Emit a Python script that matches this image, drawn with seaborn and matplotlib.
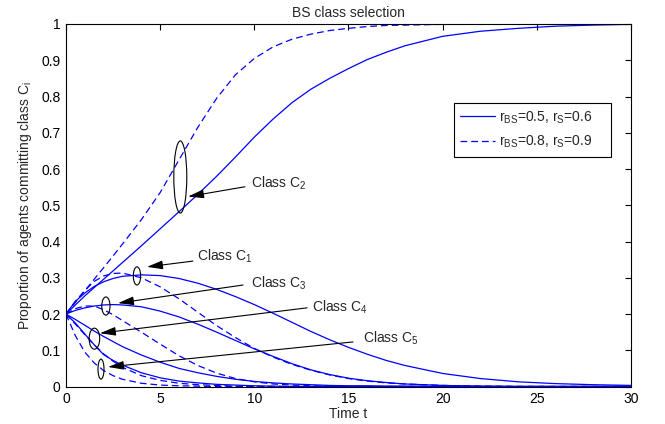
import matplotlib
matplotlib.use('Agg')
import matplotlib.pyplot as plt
import numpy as np
import pandas as pd
import seaborn as sns
from matplotlib.patches import Ellipse
from matplotlib.lines import Line2D

# ---------------- data ----------------
t = [0, 0.5, 1, 1.5, 2, 2.5, 3, 4, 5, 6, 7, 8, 9, 10, 11, 12, 13, 14, 15, 16,
     17, 18, 20, 22, 24, 26, 28, 30]

# r_BS=0.5, r_S=0.6 (solid)
c1_solid = [0.200, 0.235, 0.258, 0.276, 0.289, 0.298, 0.304, 0.308, 0.306, 0.298,
            0.285, 0.268, 0.248, 0.226, 0.202, 0.177, 0.152, 0.129, 0.108, 0.089,
            0.072, 0.058, 0.036, 0.022, 0.013, 0.008, 0.005, 0.003]
c2_solid = [0.200, 0.225, 0.250, 0.273, 0.296, 0.319, 0.342, 0.388, 0.435, 0.482,
            0.530, 0.580, 0.633, 0.688, 0.738, 0.783, 0.820, 0.850, 0.877, 0.902,
            0.922, 0.940, 0.966, 0.980, 0.988, 0.994, 0.997, 0.999]
c3_solid = [0.200, 0.210, 0.217, 0.222, 0.225, 0.226, 0.225, 0.220, 0.208, 0.192,
            0.172, 0.150, 0.127, 0.104, 0.083, 0.063, 0.046, 0.033, 0.023, 0.016,
            0.011, 0.007, 0.003, 0.001, 0.000, 0.000, 0.000, 0.000]
c4_solid = [0.200, 0.185, 0.169, 0.153, 0.138, 0.124, 0.110, 0.087, 0.067, 0.050,
            0.038, 0.028, 0.020, 0.014, 0.010, 0.007, 0.005, 0.003, 0.002, 0.002,
            0.001, 0.001, 0.000, 0.000, 0.000, 0.000, 0.000, 0.000]
c5_solid = [0.200, 0.175, 0.145, 0.115, 0.088, 0.072, 0.059, 0.038, 0.024, 0.015,
            0.010, 0.006, 0.004, 0.002, 0.001, 0.000, 0.000, 0.000, 0.000, 0.000,
            0.000, 0.000, 0.000, 0.000, 0.000, 0.000, 0.000, 0.000]

# r_BS=0.8, r_S=0.9 (dashed)
c1_dash = [0.200, 0.235, 0.265, 0.290, 0.305, 0.312, 0.313, 0.300, 0.275, 0.242,
           0.205, 0.168, 0.135, 0.105, 0.081, 0.061, 0.045, 0.032, 0.022, 0.015,
           0.010, 0.007, 0.003, 0.001, 0.000, 0.000, 0.000, 0.000]
c2_dash = [0.200, 0.232, 0.264, 0.296, 0.328, 0.360, 0.393, 0.460, 0.535, 0.625,
           0.715, 0.795, 0.860, 0.905, 0.937, 0.958, 0.972, 0.982, 0.988, 0.993,
           0.996, 0.997, 0.999, 1.000, 1.000, 1.000, 1.000, 1.000]
c3_dash = [0.200, 0.215, 0.222, 0.222, 0.212, 0.198, 0.182, 0.150, 0.117, 0.085,
           0.058, 0.037, 0.022, 0.013, 0.007, 0.004, 0.002, 0.001, 0.000, 0.000,
           0.000, 0.000, 0.000, 0.000, 0.000, 0.000, 0.000, 0.000]
c4_dash = [0.200, 0.172, 0.143, 0.115, 0.090, 0.070, 0.053, 0.030, 0.017, 0.009,
           0.005, 0.003, 0.001, 0.000, 0.000, 0.000, 0.000, 0.000, 0.000, 0.000,
           0.000, 0.000, 0.000, 0.000, 0.000, 0.000, 0.000, 0.000]
c5_dash = [0.200, 0.140, 0.095, 0.065, 0.044, 0.030, 0.020, 0.009, 0.004, 0.002,
           0.001, 0.000, 0.000, 0.000, 0.000, 0.000, 0.000, 0.000, 0.000, 0.000,
           0.000, 0.000, 0.000, 0.000, 0.000, 0.000, 0.000, 0.000]

legend_labels = [r'r$_\mathrm{BS}$=0.5, r$_\mathrm{S}$=0.6    ',
                 r'r$_\mathrm{BS}$=0.8, r$_\mathrm{S}$=0.9    ']
x_ticks = [0, 5, 10, 15, 20, 25, 30]
y_ticks = [0, 0.1, 0.2, 0.3, 0.4, 0.5, 0.6, 0.7, 0.8, 0.9, 1]
y_tick_labels = ['0', '0.1', '0.2', '0.3', '0.4', '0.5', '0.6', '0.7', '0.8', '0.9', '1']

# ---------------- build table ----------------
series = {
    ('solid', 'C1'): c1_solid, ('solid', 'C2'): c2_solid, ('solid', 'C3'): c3_solid,
    ('solid', 'C4'): c4_solid, ('solid', 'C5'): c5_solid,
    ('dash', 'C1'): c1_dash, ('dash', 'C2'): c2_dash, ('dash', 'C3'): c3_dash,
    ('dash', 'C4'): c4_dash, ('dash', 'C5'): c5_dash,
}
rows = []
for (param, cls), vals in series.items():
    for tt, vv in zip(t, vals):
        rows.append({'t': tt, 'v': vv, 'param': param, 'unit': param + cls})
df = pd.DataFrame(rows)

# ---------------- style ----------------
sns.set_theme(style='white')
plt.rcParams['font.family'] = ['Liberation Sans', 'DejaVu Sans']
plt.rcParams['mathtext.fontset'] = 'custom'
plt.rcParams['mathtext.rm'] = 'Liberation Sans'
plt.rcParams['mathtext.it'] = 'Liberation Sans:italic'
plt.rcParams['mathtext.bf'] = 'Liberation Sans:bold'

FS = 10
fig = plt.figure(figsize=(6.65, 4.24), dpi=100)
ax = fig.add_axes([0.0992, 0.0884, 0.8497, 0.855])

sns.lineplot(data=df, x='t', y='v', units='unit', style='param',
             estimator=None, color='#0000ff', lw=0.9, legend=False, ax=ax,
             sort=False, dashes={'solid': '', 'dash': (5.4, 3.2)})

ax.set_xlim(0, 30)
ax.set_ylim(0, 1)
ax.set_xticks(x_ticks)
ax.set_xticklabels([str(v) for v in x_ticks])
ax.set_yticks(y_ticks)
ax.set_yticklabels(y_tick_labels)
ax.tick_params(direction='in', top=True, right=True, length=4, width=0.8,
               labelsize=FS, colors='black', pad=4)
for s in ax.spines.values():
    s.set_color('black')
    s.set_linewidth(0.8)

ax.set_title('BS class selection', fontsize=FS, pad=5)
ax.set_xlabel('Time t', fontsize=FS, labelpad=1)
ax.set_ylabel(r'Proportion of agents committing class C$_\mathrm{i}$', fontsize=FS, labelpad=5)

handles = [Line2D([], [], color='#0000ff', lw=0.9),
           Line2D([], [], color='#0000ff', lw=0.9, dashes=(5.4, 3.2))]
leg = ax.legend(handles, legend_labels, loc='upper left',
                bbox_to_anchor=(0.687, 0.782), borderaxespad=0,
                fontsize=FS, frameon=True, fancybox=False, framealpha=1,
                edgecolor='black', handlelength=2.5, handletextpad=0.3,
                labelspacing=0.6, borderpad=0.45)
leg.get_frame().set_linewidth(0.8)

# ---------------- annotations ----------------
ellipses = [((6.07, 0.578), 0.69, 0.199),   # C2
            ((3.77, 0.305), 0.39, 0.050),   # C1
            ((2.12, 0.222), 0.44, 0.050),   # C3
            ((1.51, 0.132), 0.56, 0.058),   # C4
            ((1.86, 0.048), 0.32, 0.055)]   # C5
for c, w, h in ellipses:
    ax.add_patch(Ellipse(c, w, h, fill=False, ec='black', lw=0.8, zorder=5))

arrows = [  # (tip, tail, text pos, label)
    ((6.48, 0.524), (9.50, 0.551), (9.82, 0.550), r'Class C$_2$'),
    ((4.30, 0.330), (6.74, 0.346), (6.96, 0.347), r'Class C$_1$'),
    ((2.76, 0.230), (9.40, 0.280), (9.82, 0.274), r'Class C$_3$'),
    ((1.80, 0.147), (12.80, 0.217), (13.06, 0.208), r'Class C$_4$'),
    ((2.23, 0.054), (15.24, 0.123), (15.77, 0.120), r'Class C$_5$'),
]
for tip, tail, tpos, lab in arrows:
    ax.annotate('', xy=tip, xytext=tail,
                arrowprops=dict(arrowstyle='-|>,head_length=0.8,head_width=0.22',
                                color='black', lw=0.8, shrinkA=0, shrinkB=0),
                zorder=6)
    ax.text(tpos[0], tpos[1], lab, fontsize=FS, va='baseline', ha='left', zorder=6)

fig.savefig('out.png', dpi=100)
